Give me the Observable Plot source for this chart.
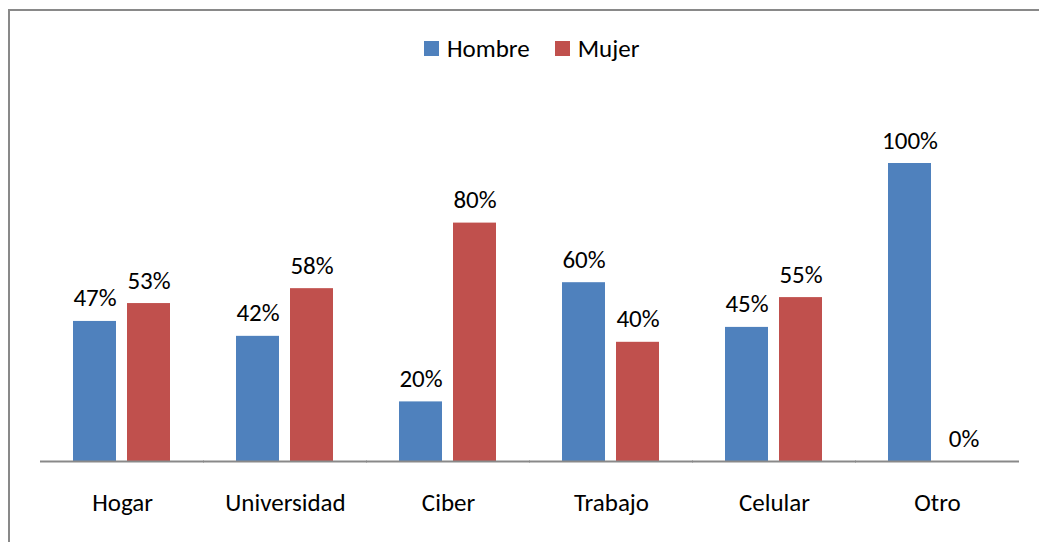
<!DOCTYPE html>
<html>
<head>
<meta charset="utf-8">
<script src="https://cdn.jsdelivr.net/npm/d3@7"></script>
<script src="https://cdn.jsdelivr.net/npm/@observablehq/plot@0.6"></script>
<style>
  html, body { margin: 0; padding: 0; background: #fff; width: 1039px; height: 542px; overflow: hidden; }
  body { position: relative; font-family: Carlito, Lato, "Open Sans", sans-serif; }
  #frame { position: absolute; left: 8px; top: 9px; width: 1100px; height: 600px; border-left: 2px solid #898989; border-top: 2px solid #898989; }
  #legend { position: absolute; left: 424px; top: 33px; display: flex; align-items: center; font-size: 25px; color: #000; }
  #legend .sw { width: 15px; height: 15px; margin-right: 8px; }
  #legend .item { display: flex; align-items: center; margin-right: 25px; }
  #chart { position: absolute; left: 0; top: 80px; }
</style>
</head>
<body>
<div id="frame"></div>
<div id="legend"></div>
<div id="chart"></div>
<script>
const categories = ["Hogar", "Universidad", "Ciber", "Trabajo", "Celular", "Otro"];
const series = ["Hombre", "Mujer"];
const hombre = [47, 42, 20, 60, 45, 100];
const mujer = [53, 58, 80, 40, 55, 0];
const colors = ["#4F81BD", "#C0504D"];

const data = [];
categories.forEach((c, i) => {
  data.push({lugar: c, sexo: "Hombre", valor: hombre[i]});
  data.push({lugar: c, sexo: "Mujer", valor: mujer[i]});
});

const legend = document.getElementById("legend");
series.forEach((s, i) => {
  const it = document.createElement("div");
  it.className = "item";
  it.innerHTML = `<div class="sw" style="background:${colors[i]}"></div><span>${s}</span>`;
  legend.appendChild(it);
});

const chart = Plot.plot({
  width: 1039,
  height: 462,
  marginLeft: 38,
  marginRight: 19,
  marginTop: 83,
  marginBottom: 81,
  style: {fontFamily: "Carlito, Lato, 'Open Sans', sans-serif", fontSize: "25px", color: "#000", background: "transparent"},
  fx: {domain: categories, paddingInner: 0.4, paddingOuter: 0.2, label: null, axis: "bottom", tickSize: 0, tickPadding: 32},
  x: {domain: series, paddingInner: 0.2, paddingOuter: 0, axis: null},
  y: {domain: [0, 100], axis: null},
  color: {domain: series, range: colors},
  marks: [
    Plot.barY(data, {fx: "lugar", x: "sexo", y: "valor", fill: "sexo"}),
    Plot.text(data, {fx: "lugar", x: "sexo", y: "valor", text: d => d.valor + "%", lineAnchor: "bottom", dy: -15, fill: "#000", fontSize: 25}),
    Plot.ruleY([0], {stroke: "#898989", strokeWidth: 2, insetLeft: -33, insetRight: -33})
  ]
});
document.getElementById("chart").appendChild(chart);
</script>
</body>
</html>
